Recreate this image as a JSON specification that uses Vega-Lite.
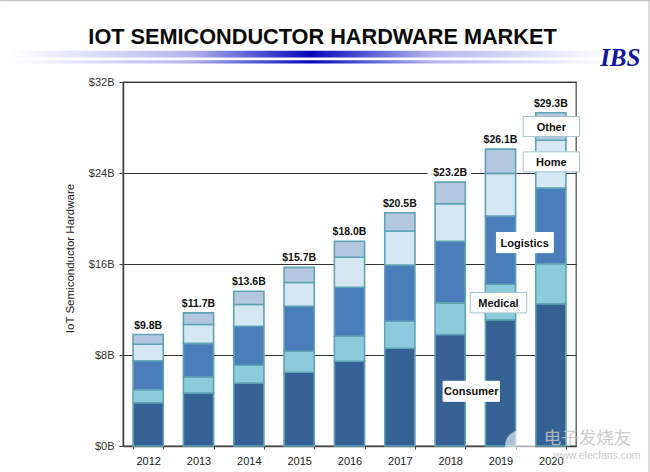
{
  "$schema": "https://vega.github.io/schema/vega-lite/v6.json",
  "width": 453,
  "height": 364,
  "autosize": "none",
  "padding": {"left": 123, "top": 82, "right": 74, "bottom": 26},
  "background": "white",
  "title": {
    "text": "IOT SEMICONDUCTOR HARDWARE MARKET",
    "font": "Liberation Sans",
    "fontSize": 21.7,
    "fontWeight": "bold",
    "color": "#0a0a0a",
    "anchor": "middle",
    "frame": "group",
    "dx": -27,
    "offset": -49
  },
  "config": {
    "font": "Liberation Sans",
    "view": {"stroke": "#555555", "strokeWidth": 1.3}
  },
  "datasets": {
    "segments": [
      {"year": "2012", "segment": "Consumer", "rank": 1, "value": 3.8},
      {"year": "2012", "segment": "Medical", "rank": 2, "value": 1.15},
      {"year": "2012", "segment": "Logistics", "rank": 3, "value": 2.55},
      {"year": "2012", "segment": "Home", "rank": 4, "value": 1.45},
      {"year": "2012", "segment": "Other", "rank": 5, "value": 0.85},
      {"year": "2013", "segment": "Consumer", "rank": 1, "value": 4.66},
      {"year": "2013", "segment": "Medical", "rank": 2, "value": 1.41},
      {"year": "2013", "segment": "Logistics", "rank": 3, "value": 2.95},
      {"year": "2013", "segment": "Home", "rank": 4, "value": 1.66},
      {"year": "2013", "segment": "Other", "rank": 5, "value": 1.02},
      {"year": "2014", "segment": "Consumer", "rank": 1, "value": 5.54},
      {"year": "2014", "segment": "Medical", "rank": 2, "value": 1.56},
      {"year": "2014", "segment": "Logistics", "rank": 3, "value": 3.43},
      {"year": "2014", "segment": "Home", "rank": 4, "value": 1.91},
      {"year": "2014", "segment": "Other", "rank": 5, "value": 1.16},
      {"year": "2015", "segment": "Consumer", "rank": 1, "value": 6.48},
      {"year": "2015", "segment": "Medical", "rank": 2, "value": 1.85},
      {"year": "2015", "segment": "Logistics", "rank": 3, "value": 3.95},
      {"year": "2015", "segment": "Home", "rank": 4, "value": 2.1},
      {"year": "2015", "segment": "Other", "rank": 5, "value": 1.32},
      {"year": "2016", "segment": "Consumer", "rank": 1, "value": 7.45},
      {"year": "2016", "segment": "Medical", "rank": 2, "value": 2.2},
      {"year": "2016", "segment": "Logistics", "rank": 3, "value": 4.3},
      {"year": "2016", "segment": "Home", "rank": 4, "value": 2.65},
      {"year": "2016", "segment": "Other", "rank": 5, "value": 1.4},
      {"year": "2017", "segment": "Consumer", "rank": 1, "value": 8.6},
      {"year": "2017", "segment": "Medical", "rank": 2, "value": 2.37},
      {"year": "2017", "segment": "Logistics", "rank": 3, "value": 4.93},
      {"year": "2017", "segment": "Home", "rank": 4, "value": 3.0},
      {"year": "2017", "segment": "Other", "rank": 5, "value": 1.6},
      {"year": "2018", "segment": "Consumer", "rank": 1, "value": 9.8},
      {"year": "2018", "segment": "Medical", "rank": 2, "value": 2.78},
      {"year": "2018", "segment": "Logistics", "rank": 3, "value": 5.42},
      {"year": "2018", "segment": "Home", "rank": 4, "value": 3.3},
      {"year": "2018", "segment": "Other", "rank": 5, "value": 1.9},
      {"year": "2019", "segment": "Consumer", "rank": 1, "value": 11.1},
      {"year": "2019", "segment": "Medical", "rank": 2, "value": 3.12},
      {"year": "2019", "segment": "Logistics", "rank": 3, "value": 6.0},
      {"year": "2019", "segment": "Home", "rank": 4, "value": 3.75},
      {"year": "2019", "segment": "Other", "rank": 5, "value": 2.13},
      {"year": "2020", "segment": "Consumer", "rank": 1, "value": 12.5},
      {"year": "2020", "segment": "Medical", "rank": 2, "value": 3.52},
      {"year": "2020", "segment": "Logistics", "rank": 3, "value": 6.66},
      {"year": "2020", "segment": "Home", "rank": 4, "value": 4.2},
      {"year": "2020", "segment": "Other", "rank": 5, "value": 2.42}
    ],
    "totals": [
      {"year": "2012", "total": 9.8, "label": "$9.8B"},
      {"year": "2013", "total": 11.7, "label": "$11.7B"},
      {"year": "2014", "total": 13.6, "label": "$13.6B"},
      {"year": "2015", "total": 15.7, "label": "$15.7B"},
      {"year": "2016", "total": 18.0, "label": "$18.0B"},
      {"year": "2017", "total": 20.5, "label": "$20.5B"},
      {"year": "2018", "total": 23.2, "label": "$23.2B"},
      {"year": "2019", "total": 26.1, "label": "$26.1B"},
      {"year": "2020", "total": 29.3, "label": "$29.3B"}
    ],
    "boxes": [
      {"label": "", "style": "plain", "x0": 6.06, "x1": 6.9, "y0": 23.4, "y1": 24.6},
      {"label": "Other", "style": "outlined", "x0": 7.95, "x1": 9.07, "y0": 27.2, "y1": 28.97, "xm": 8.51, "ym": 28.08},
      {"label": "Home", "style": "outlined", "x0": 7.95, "x1": 9.07, "y0": 24.1, "y1": 25.86, "xm": 8.51, "ym": 24.98},
      {"label": "Logistics", "style": "plain", "x0": 7.42, "x1": 8.55, "y0": 17.0, "y1": 18.77, "xm": 7.98, "ym": 17.88},
      {"label": "Medical", "style": "outlined", "x0": 6.9, "x1": 8.02, "y0": 11.7, "y1": 13.49, "xm": 7.46, "ym": 12.6},
      {"label": "Consumer", "style": "plain", "x0": 6.36, "x1": 7.48, "y0": 3.93, "y1": 5.69, "xm": 6.92, "ym": 4.81}
    ]
  },
  "resolve": {"scale": {"x": "independent"}},
  "layer": [
    {
      "data": {"values": [
        {"x0": -2.24, "x1": 9.68, "y0": 34.16, "y1": 34.74},
        {"x0": -2.24, "x1": 9.68, "y0": 33.63, "y1": 33.92}
      ]},
      "mark": {
        "type": "rect",
        "clip": false,
        "color": {
          "x1": 0, "x2": 1, "y1": 0, "y2": 0,
          "gradient": "linear",
          "stops": [
            {"offset": 0, "color": "#ffffff"},
            {"offset": 0.3, "color": "#b4b4ee"},
            {"offset": 0.5, "color": "#0606bc"},
            {"offset": 0.7, "color": "#b4b4ee"},
            {"offset": 1, "color": "#ffffff"}
          ]
        }
      },
      "encoding": {
        "x": {"field": "x0", "type": "quantitative", "scale": {"domain": [0, 9]}, "axis": null},
        "x2": {"field": "x1"},
        "y": {"field": "y0", "type": "quantitative"},
        "y2": {"field": "y1"}
      }
    },
    {
      "data": {"name": "segments"},
      "mark": {"type": "bar", "stroke": "#5fa3b5", "strokeWidth": 1.6},
      "encoding": {
        "x": {
          "field": "year",
          "type": "nominal",
          "title": null,
          "scale": {"paddingInner": 0.4, "paddingOuter": 0.2},
          "axis": {
            "labelAngle": 0,
            "labelFont": "Liberation Sans",
            "labelFontSize": 11,
            "labelColor": "#222222",
            "labelPadding": 6,
            "tickBand": "extent",
            "tickSize": 3,
            "tickColor": "#444444",
            "domainColor": "#444444",
            "domainWidth": 1.5
          }
        },
        "y": {
          "field": "value",
          "type": "quantitative",
          "stack": "zero",
          "scale": {"domain": [0, 32], "nice": false},
          "title": "IoT Semiconductor Hardware",
          "axis": {
            "values": [0, 8, 16, 24, 32],
            "labelExpr": "'$' + datum.value + 'B'",
            "labelFontSize": 11,
            "labelColor": "#333333",
            "labelPadding": 5,
            "titleFont": "Liberation Sans",
            "titleFontSize": 11.5,
            "titleFontWeight": "normal",
            "titleColor": "#222222",
            "titlePadding": 13,
            "titleY": 176,
            "tickSize": 4,
            "tickColor": "#444444",
            "domainColor": "#444444",
            "domainWidth": 1.5,
            "grid": true,
            "gridColor": "#333333",
            "gridWidth": 1
          }
        },
        "color": {
          "field": "segment",
          "type": "nominal",
          "legend": null,
          "scale": {
            "domain": ["Consumer", "Medical", "Logistics", "Home", "Other"],
            "range": ["#356195", "#8ccbdb", "#4a7ebb", "#d5e7f3", "#b3c7e0"]
          }
        },
        "order": {"field": "rank", "type": "quantitative"}
      }
    },
    {
      "data": {"name": "boxes"},
      "mark": {"type": "rect", "fill": "white", "strokeWidth": 1, "clip": false},
      "encoding": {
        "x": {"field": "x0", "type": "quantitative", "scale": {"domain": [0, 9]}, "axis": null},
        "x2": {"field": "x1"},
        "y": {"field": "y0", "type": "quantitative"},
        "y2": {"field": "y1"},
        "stroke": {
          "field": "style",
          "type": "nominal",
          "legend": null,
          "scale": {"domain": ["outlined", "plain"], "range": ["#a3c4ca", "#ffffff"]}
        }
      }
    },
    {
      "data": {"name": "totals"},
      "mark": {"type": "text", "font": "Liberation Sans", "fontSize": 10.5, "fontWeight": "bold", "color": "#111111", "dy": -9},
      "encoding": {
        "x": {"field": "year", "type": "nominal", "axis": null, "scale": {"paddingInner": 0.4, "paddingOuter": 0.2}},
        "y": {"field": "total", "type": "quantitative"},
        "text": {"field": "label"}
      }
    },
    {
      "data": {"name": "boxes"},
      "transform": [{"filter": "datum.label != ''"}],
      "mark": {"type": "text", "font": "Liberation Sans", "fontSize": 11, "fontWeight": "bold", "color": "#111111", "clip": false, "dy": 1},
      "encoding": {
        "x": {"field": "xm", "type": "quantitative", "scale": {"domain": [0, 9]}, "axis": null},
        "y": {"field": "ym", "type": "quantitative"},
        "text": {"field": "label"}
      }
    },
    {
      "data": {"values": [{"x": 9.88, "y": 34.1, "t": "IBS"}]},
      "mark": {"type": "text", "font": "Liberation Serif", "fontSize": 25, "fontWeight": "bold", "fontStyle": "italic", "color": "#1414a0", "clip": false},
      "encoding": {
        "x": {"field": "x", "type": "quantitative", "scale": {"domain": [0, 9]}, "axis": null},
        "y": {"field": "y", "type": "quantitative"},
        "text": {"field": "t"}
      }
    },
    {
      "data": {"values": [{"x": 7.89, "y": 0.05}]},
      "mark": {"type": "point", "filled": true, "fill": "white", "opacity": 0.6, "size": 900, "clip": false},
      "encoding": {
        "x": {"field": "x", "type": "quantitative", "scale": {"domain": [0, 9]}, "axis": null},
        "y": {"field": "y", "type": "quantitative"}
      }
    },
    {
      "data": {"values": [
        {"x": 9.23, "y": 0.62, "t": "电子发烧友"}
      ]},
      "mark": {"type": "text", "font": "Noto Sans CJK SC", "fontSize": 17.5, "color": "#c4c4c4", "opacity": 0.85, "clip": false},
      "encoding": {
        "x": {"field": "x", "type": "quantitative", "scale": {"domain": [0, 9]}, "axis": null},
        "y": {"field": "y", "type": "quantitative"},
        "text": {"field": "t"}
      }
    },
    {
      "data": {"values": [
        {"x": 9.42, "y": -0.88, "t": "www.elecfans.com"}
      ]},
      "mark": {"type": "text", "font": "Liberation Sans", "fontSize": 10.5, "color": "#c4c4c4", "opacity": 0.85, "clip": false},
      "encoding": {
        "x": {"field": "x", "type": "quantitative", "scale": {"domain": [0, 9]}, "axis": null},
        "y": {"field": "y", "type": "quantitative"},
        "text": {"field": "t"}
      }
    },
    {
      "data": {"values": [
        {"x0": -2.44, "x1": 10.47, "y0": 39.15, "y1": 39.15},
        {"x0": 10.45, "x1": 10.45, "y0": 39.2, "y1": -2.3}
      ]},
      "mark": {"type": "rule", "color": "#bbbbbb", "strokeWidth": 1, "clip": false},
      "encoding": {
        "x": {"field": "x0", "type": "quantitative", "scale": {"domain": [0, 9]}, "axis": null},
        "x2": {"field": "x1"},
        "y": {"field": "y0", "type": "quantitative"},
        "y2": {"field": "y1"}
      }
    }
  ]
}
